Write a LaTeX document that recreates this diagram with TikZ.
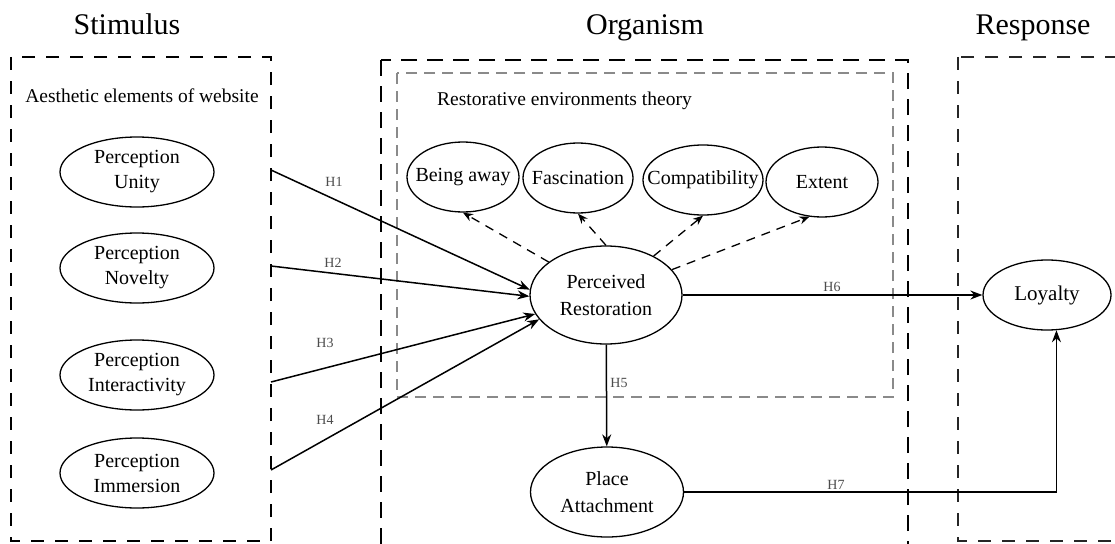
\documentclass[tikz,border=0pt]{standalone}
\usepackage{fontspec}
\setmainfont{Liberation Serif}
\usepackage{tikz}
\usetikzlibrary{arrows.meta,shapes.geometric,positioning}
\usepackage{xcolor}
\definecolor{retgray}{HTML}{8A8A8A}
\definecolor{labgray}{HTML}{4D4D4D}

\begin{document}
\begin{tikzpicture}[x=1pt,y=-1pt,
  var/.style={ellipse,draw,line width=1.3pt,inner xsep=-30pt,inner ysep=-12pt,align=center,
              font=\fontsize{20}{25}\selectfont},
  hyp/.style={-{Stealth[length=12pt,width=9pt]},line width=1.5pt},
  dimarrow/.style={-{Stealth[length=10pt,width=8pt]},line width=1.3pt,
                   dash pattern=on 9pt off 7pt},
  hlab/.style={font=\fontsize{14}{16}\selectfont,text=labgray,inner sep=0pt},
  title/.style={font=\fontsize{30}{34}\selectfont,anchor=base},
  stimbox/.style={line width=1.6pt,dash pattern=on 13pt off 11pt},
  orgbox/.style={line width=2.8pt,dash pattern=on 16pt off 10pt},
  retbox/.style={retgray,line width=1.5pt,dash pattern=on 11pt off 7pt},
  respbox/.style={black!85,line width=1.4pt,dash pattern=on 13pt off 11pt}]
 \clip (0,0) rectangle (1115,543);
 \fill[white] (0,0) rectangle (1115,543);

 % three S-O-R blocks
 \node[title] (tstim) at (127,35) {Stimulus};
 \node[title] (torg) at (645,35) {Organism};
 \node[title] (tresp) at (1033,35) {Response};
 \draw[stimbox] (11,57) rectangle (271,541);
 \draw[orgbox] (381,60) rectangle (908,552);
 \draw[retbox] (397,73) rectangle (893,397);
 \draw[respbox] (958,57) rectangle (1130,541);
 \node[font=\fontsize{19.5}{23}\selectfont,anchor=base] (aes) at (142,102) {Aesthetic elements of website};
 \node[font=\fontsize{19.5}{23}\selectfont,anchor=base west,inner sep=0pt] (ret) at (437,105) {Restorative environments theory};

 % stimulus
 \node[var,minimum width=154pt,minimum height=70pt] (uni) at (137,172) {Perception\\Unity};
 \node[var,minimum width=154pt,minimum height=70pt] (nov) at (137,268) {Perception\\Novelty};
 \node[var,minimum width=154pt,minimum height=70pt] (int) at (137,375) {Perception\\Interactivity};
 \node[var,minimum width=154pt,minimum height=70pt] (imm) at (137,473) {Perception\\Immersion};

 % organism
 \node[var,minimum width=112pt,minimum height=70pt] (away) at (463,177) {Being away};
 \node[var,minimum width=110pt,minimum height=70pt] (fas) at (578,178) {Fascination};
 \node[var,minimum width=120pt,minimum height=70pt] (comp) at (703,180) {Compatibility};
 \node[var,minimum width=112pt,minimum height=70pt] (ext) at (822,182) {Extent};
 \node[var,minimum width=152pt,minimum height=98pt,font=\fontsize{20}{27}\selectfont] (pr) at (606,295) {Perceived\\Restoration};
 \node[var,minimum width=153pt,minimum height=90pt,font=\fontsize{20}{27}\selectfont] (pa) at (607,492) {Place\\Attachment};

 % response
 \node[var,minimum width=128pt,minimum height=70pt,font=\fontsize{21}{25}\selectfont] (loy) at (1047,295) {Loyalty};

 % dimensions of restoration
 \draw[dimarrow] (pr) -- (away.south);
 \draw[dimarrow] (pr.north) -- (fas.south);
 \draw[dimarrow] (pr) -- (comp.south);
 \draw[dimarrow] (pr) -- (ext.250);

 % hypotheses
 \coordinate (s1) at (271,170);
 \coordinate (s2) at (271,266);
 \coordinate (s3) at (271,382);
 \coordinate (s4) at (271,470);
 \draw[hyp] (s1) -- (pr.176);
 \draw[hyp] (s2) -- (pr.181);
 \draw[hyp] (s3) -- (pr.195);
 \draw[hyp] (s4) -- (pr.200);
 \draw[hyp] (pr) -- (pa);
 \draw[hyp] (pr) -- (loy);
 \draw[hyp] (pa.east) -| (loy.285);
 \node[hlab] (h1) at (334,182) {H1};
 \node[hlab] (h2) at (333,263) {H2};
 \node[hlab] (h3) at (325,343) {H3};
 \node[hlab] (h4) at (325,420) {H4};
 \node[hlab] (h5) at (619,383) {H5};
 \node[hlab] (h6) at (832,287) {H6};
 \node[hlab] (h7) at (836,485) {H7};
\end{tikzpicture}
\end{document}
